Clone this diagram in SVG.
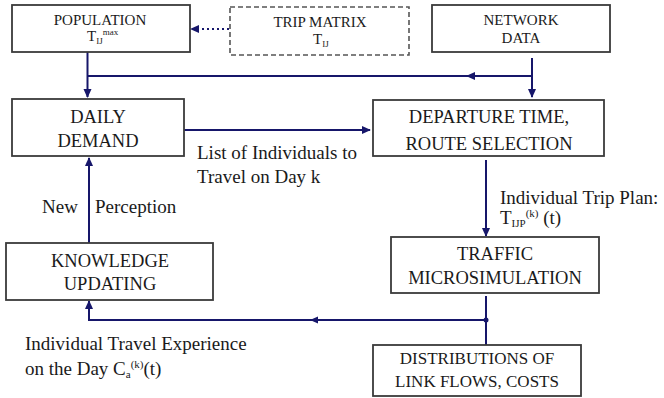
<svg xmlns="http://www.w3.org/2000/svg" width="664" height="398" viewBox="0 0 664 398">
<style>
.box{fill:#fff;stroke:#3a3a3a;stroke-width:1.8}
.dash{fill:#fff;stroke:#555;stroke-width:1.6;stroke-dasharray:5 3}
text{font-family:"Liberation Serif",Tinos,"Times New Roman","DejaVu Serif",serif;fill:#1a1a1a}
.big{font-size:18.5px;text-anchor:middle}
.sm{font-size:15px;text-anchor:middle}
.md{font-size:17px;text-anchor:middle}
.lab{font-size:19px}
.ln{fill:none;stroke:#16166a;stroke-width:2}
.dot{fill:none;stroke:#16166a;stroke-width:2.2;stroke-dasharray:2 3}
.ah{fill:#16166a}
</style>
<defs>
<marker id="arr" viewBox="0 0 10 10" refX="9" refY="5" markerWidth="9" markerHeight="9" markerUnits="userSpaceOnUse" orient="auto">
<path d="M0,0.5 L10,5 L0,9.5 Z" fill="#16166a"/>
</marker>
</defs>
<rect width="664" height="398" fill="#fff"/>

<g id="connectors">
<path class="ln" d="M87.5,52 V97" marker-end="url(#arr)"/>
<path class="ln" d="M87.5,76 H532"/>
<path class="ln" d="M532,58 V97" marker-end="url(#arr)"/>
<path class="ah" d="M466,76 L475,72 L475,80 Z"/>
<path class="dot" d="M229,29 H198"/>
<path class="ah" d="M190,29 L199,25 L199,33 Z"/>
<path class="ln" d="M184,130 H370" marker-end="url(#arr)"/>
<path class="ln" d="M486,160 V236" marker-end="url(#arr)"/>
<path class="ln" d="M486,296 V345"/>
<path class="ln" d="M486,320 H89 V301" marker-end="url(#arr)"/>
<circle class="ah" cx="486" cy="320" r="2.5"/>
<path class="ah" d="M310,320 L318,316.5 L318,323.5 Z"/>
<path class="ln" d="M89,243 V158" marker-end="url(#arr)"/>
</g>

<g id="population">
<rect class="box" x="12" y="5" width="178" height="47"/>
<text class="sm" x="100" y="25">POPULATION</text>
<text font-size="15" x="87" y="41">T<tspan font-size="9" dy="3">IJ</tspan><tspan font-size="9" dy="-9">max</tspan></text>
</g>

<g id="trip-matrix">
<rect class="dash" x="230" y="7" width="179" height="48"/>
<text class="sm" x="320" y="27">TRIP MATRIX</text>
<text font-size="15" x="313" y="44">T<tspan font-size="9" dy="3">IJ</tspan></text>
</g>

<g id="network-data">
<rect class="box" x="432" y="5" width="178" height="47"/>
<text class="sm" x="521" y="25">NETWORK</text>
<text class="sm" x="521" y="43">DATA</text>
</g>

<g id="daily-demand">
<rect class="box" x="12" y="99" width="172" height="57"/>
<text class="big" x="98" y="123">DAILY</text>
<text class="big" x="98" y="147">DEMAND</text>
</g>

<g id="departure">
<rect class="box" x="373" y="100" width="231" height="56"/>
<text class="big" x="489" y="123">DEPARTURE TIME,</text>
<text class="big" x="489" y="150">ROUTE SELECTION</text>
</g>

<g id="traffic">
<rect class="box" x="391" y="237" width="208" height="56"/>
<text class="big" x="495" y="260">TRAFFIC</text>
<text class="big" x="495" y="284">MICROSIMULATION</text>
</g>

<g id="knowledge">
<rect class="box" x="6" y="243" width="207" height="57"/>
<text class="big" x="110" y="267">KNOWLEDGE</text>
<text class="big" x="110" y="290">UPDATING</text>
</g>

<g id="distributions">
<rect class="box" x="373" y="345" width="208" height="51"/>
<text class="md" x="477" y="364">DISTRIBUTIONS OF</text>
<text class="md" x="477" y="387">LINK FLOWS, COSTS</text>
</g>

<g id="labels">
<text class="lab" x="197" y="159">List of Individuals to</text>
<text class="lab" x="197" y="183">Travel on Day k</text>
<text class="lab" x="42" y="213">New</text>
<text class="lab" x="95" y="213">Perception</text>
<text class="lab" x="500" y="204">Individual Trip Plan:</text>
<text class="lab" x="500" y="224">T<tspan font-size="11" dy="3">IJP</tspan><tspan font-size="11" dy="-10">(k)</tspan><tspan dy="7"> (t)</tspan></text>
<text class="lab" x="25" y="350">Individual Travel Experience</text>
<text class="lab" x="25" y="375">on the Day C<tspan font-size="11" dy="3">a</tspan><tspan font-size="11" dy="-10">(k)</tspan><tspan dy="7">(t)</tspan></text>
</g>
</svg>
